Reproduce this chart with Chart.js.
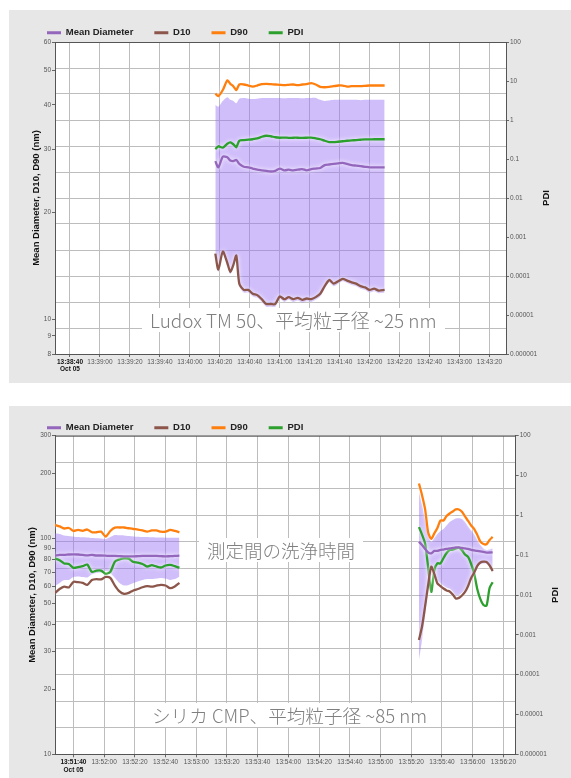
<!DOCTYPE html>
<html>
<head>
<meta charset="utf-8">
<script src="https://cdn.jsdelivr.net/npm/chart.js@4"></script>
<style>
  body { margin: 0; width: 571px; height: 778px; background: #fff; position: relative; overflow: hidden; }
  .panel { position: absolute; left: 9px; right: 0; background: #e7e7e7; }
  canvas { position: absolute; left: 0; }
  .note { position: absolute; background: #fff; color: #7f7f7f; font: 300 18px 'Noto Sans CJK JP', sans-serif;
          line-height: 22px; padding: 1px 8px; white-space: nowrap; }
</style>
</head>
<body>
<div class="panel" style="top:10px;height:373px"></div>
<div class="panel" style="top:406px;height:372px"></div>
<canvas id="c1" width="571" height="383" style="top:0"></canvas>
<canvas id="c2" width="571" height="383" style="top:395px"></canvas>
<div class="note" style="left:142px;top:308px;font-size:18.9px">Ludox TM 50、平均粒子径 ~25 nm</div>
<div class="note" style="left:199px;top:538px;font-size:18.5px">測定間の洗浄時間</div>
<div class="note" style="left:144px;top:703px;font-size:18.6px">シリカ CMP、平均粒子径 ~85 nm</div>
<script>
// --- chart 1 : Ludox TM 50 ---
const times1 = ['13:40:17','13:40:19','13:40:22','13:40:25','13:40:27','13:40:29','13:40:31','13:40:33','13:40:36','13:40:39',
  '13:40:42','13:40:45','13:40:48','13:40:51','13:40:54','13:40:57','13:41:00','13:41:03','13:41:06','13:41:09',
  '13:41:12','13:41:15','13:41:18','13:41:21','13:41:24','13:41:27','13:41:30','13:41:33','13:41:36','13:41:39',
  '13:41:42','13:41:45','13:41:48','13:41:51','13:41:54','13:41:57','13:42:00','13:42:03','13:42:06','13:42:10']
const mean1 = [27.8, 26.7, 28.6, 28.5, 27.9, 27.8, 28.0, 27.3, 26.8, 26.7,
  26.5, 26.3, 26.2, 26.1, 26.0, 26.1, 26.5, 26.2, 26.3, 26.2,
  26.3, 26.4, 26.2, 26.4, 26.5, 26.6, 27.1, 27.2, 27.3, 27.4,
  27.5, 27.3, 27.1, 27.0, 26.9, 26.8, 26.7, 26.7, 26.7, 26.7]
const d10_1 = [15.3, 13.8, 15.5, 14.4, 13.6, 14.2, 15.1, 12.6, 12.1, 12.1,
  11.8, 11.7, 11.4, 11.05, 11.05, 11.05, 11.6, 11.4, 11.55, 11.4,
  11.5, 11.35, 11.45, 11.4, 11.55, 11.8, 12.4, 12.9, 12.6, 12.8,
  13.0, 12.85, 12.7, 12.6, 12.4, 12.3, 12.1, 12.2, 12.05, 12.1]
const d90_1 = [43.0, 42.3, 44.0, 46.8, 45.8, 45.1, 44.0, 45.6, 45.6, 45.3,
  45.0, 45.3, 45.7, 45.8, 45.7, 45.6, 45.5, 45.4, 45.5, 45.6,
  45.4, 45.6, 45.7, 46.0, 45.6, 44.9, 44.8, 44.9, 45.1, 45.3,
  45.3, 45.0, 45.1, 45.1, 45.1, 45.2, 45.3, 45.3, 45.3, 45.3]
const pdi1 = [0.18, 0.212, 0.195, 0.246, 0.266, 0.239, 0.2, 0.294, 0.306, 0.312,
  0.321, 0.336, 0.372, 0.395, 0.383, 0.361, 0.351, 0.355, 0.348, 0.351,
  0.351, 0.348, 0.351, 0.355, 0.34, 0.321, 0.294, 0.272, 0.27, 0.277,
  0.285, 0.294, 0.299, 0.306, 0.312, 0.317, 0.317, 0.321, 0.321, 0.321]
const bandHi1 = [40.0, 39.5, 41.0, 42.0, 41.3, 41.0, 40.4, 41.6, 41.8, 41.6,
  41.5, 41.6, 41.8, 41.8, 41.8, 41.8, 41.8, 41.7, 41.8, 41.8,
  41.8, 41.7, 41.8, 41.8, 41.8, 41.3, 41.0, 41.1, 41.3, 41.3,
  41.3, 41.3, 41.3, 41.3, 41.2, 41.3, 41.3, 41.3, 41.3, 41.3]
const bandLo1 = [15.1, 13.6, 15.3, 14.2, 13.4, 14.0, 14.9, 12.4, 11.9, 11.9,
  11.6, 11.5, 11.2, 10.85, 10.85, 10.85, 11.4, 11.2, 11.35, 11.2,
  11.3, 11.15, 11.25, 11.2, 11.35, 11.6, 12.2, 12.7, 12.4, 12.6,
  12.8, 12.65, 12.5, 12.4, 12.2, 12.1, 11.9, 12.0, 11.85, 11.9]
const xRange1 = ['13:38:30', '13:43:31']
const xTicks1 = ['13:38:40','13:39:00','13:39:20','13:39:40','13:40:00','13:40:20','13:40:40','13:41:00',
  '13:41:20','13:41:40','13:42:00','13:42:20','13:42:40','13:43:00','13:43:20']
const sizeTicks1 = [8, 9, 10, 20, 30, 40, 50, 60]

// --- chart 2 : silica CMP (two runs, gap while cleaning) ---
const times2 = ['13:51:28','13:51:31','13:51:34','13:51:37','13:51:40','13:51:43','13:51:46','13:51:49','13:51:52','13:51:55',
  '13:51:58','13:52:01','13:52:04','13:52:07','13:52:10','13:52:13','13:52:16','13:52:19','13:52:22','13:52:25',
  '13:52:28','13:52:31','13:52:34','13:52:37','13:52:40','13:52:43','13:52:46','13:52:49',
  '13:54:00',
  '13:55:25','13:55:27','13:55:29','13:55:31','13:55:33','13:55:35','13:55:37','13:55:39','13:55:41','13:55:43',
  '13:55:45','13:55:47','13:55:49','13:55:51','13:55:53','13:55:55','13:55:57','13:55:59','13:56:01','13:56:03',
  '13:56:05','13:56:07','13:56:09','13:56:11','13:56:13']
const mean2 = [83.3, 84.0, 84.0, 84.4, 84.6, 84.4, 84.0, 83.6, 84.0, 83.5,
  83.5, 83.3, 83.1, 83.1, 82.9, 82.7, 82.7, 82.7, 82.9, 83.1,
  83.1, 83.1, 83.1, 82.9, 82.7, 82.9, 83.1, 83.3,
  null,
  96.8, 93.3, 89.6, 86.2, 85.5, 87.7, 87.7, 88.6, 89.0, 89.6,
  90.0, 90.5, 91.0, 91.0, 90.5, 90.0, 89.6, 88.6, 88.2, 87.7,
  87.2, 86.7, 86.2, 86.2, 86.4]
const d10_2 = [56.0, 58.4, 59.9, 59.4, 63.0, 62.8, 62.3, 61.0, 64.3, 64.9,
  64.7, 66.4, 65.7, 60.6, 56.9, 55.4, 56.0, 57.5, 58.4, 59.5,
  60.2, 59.9, 60.5, 61.0, 60.6, 58.9, 60.0, 62.3,
  null,
  33.9, 39.1, 48.5, 61.0, 74.1, 68.6, 62.0, 60.3, 58.7, 57.5,
  56.9, 55.1, 52.8, 53.1, 54.5, 56.6, 60.3, 65.7, 69.7, 74.7,
  77.5, 78.2, 77.9, 75.1, 70.8]
const d90_2 = [115.7, 113.9, 111.4, 112.0, 108.5, 109.7, 108.7, 110.2, 107.0, 107.0,
  107.7, 102.3, 108.5, 112.4, 112.6, 112.6, 111.7, 110.8, 110.2, 109.1,
  107.7, 109.1, 109.1, 107.7, 107.7, 109.7, 108.5, 107.0,
  null,
  180, 159, 137, 106.8, 99.7, 105.8, 112, 121.4, 121.4, 127.3,
  130.8, 133.6, 136.5, 136.5, 133.3, 126.7, 120.8, 115, 110.8, 104,
  96.8, 94.4, 94.2, 98.6, 101.8]
const pdi2 = [0.083, 0.075, 0.062, 0.060, 0.048, 0.050, 0.053, 0.058, 0.038, 0.041,
  0.041, 0.034, 0.038, 0.069, 0.078, 0.083, 0.082, 0.068, 0.065, 0.060,
  0.052, 0.056, 0.052, 0.049, 0.055, 0.057, 0.053, 0.048,
  null,
  0.508, 0.33, 0.195, 0.050, 0.012, 0.042, 0.063, 0.062, 0.085, 0.113,
  0.134, 0.138, 0.147, 0.155, 0.134, 0.104, 0.090, 0.060, 0.034, 0.014,
  0.0079, 0.0056, 0.0054, 0.015, 0.021]
const bandHi2 = [105.8, 105.0, 103.4, 102.7, 102.1, 101.7, 101.4, 101.2, 100.6, 100.4,
  100.2, 99.6, 101.7, 104.0, 103.6, 103.4, 102.7, 102.4, 102.1, 101.7,
  101.7, 101.4, 101.2, 101.2, 101.0, 101.0, 101.0, 101.0,
  null,
  164.5, 143, 122, 104, 96.5, 100.7, 105, 108.5, 110.8, 115,
  119.4, 122, 124, 124.4, 123.3, 119.4, 113.8, 109, 104.6, 98.6,
  93.4, 90, 88.6, 89, 90]
const bandLo2 = [60.3, 62.3, 64.3, 64.3, 66.4, 66.8, 66.4, 66.0, 68.3, 69.3,
  69.7, 70.8, 69.3, 65.7, 62.3, 60.6, 61.0, 62.3, 63.3, 64.3,
  64.9, 64.9, 65.3, 65.7, 65.3, 64.3, 64.9, 66.6,
  null,
  27.4, 33.9, 44.3, 57.8, 67.8, 65.7, 63.8, 62.0, 60.5, 59.2,
  58.6, 56.8, 54.4, 54.7, 56.1, 58.3, 62.0, 64.5, 68.5, 73.5,
  76.0, 76.5, 76.5, 73.5, 69.5]
const xRange2 = ['13:51:28', '13:56:28']
const xTicks2 = ['13:51:40','13:52:00','13:52:20','13:52:40','13:53:00','13:53:20','13:53:40','13:54:00',
  '13:54:20','13:54:40','13:55:00','13:55:20','13:55:40','13:56:00','13:56:20']
const sizeTicks2 = [10, 20, 30, 40, 50, 60, 70, 80, 90, 100, 200, 300]

const pdiTicks = [0.000001, 0.00001, 0.0001, 0.001, 0.01, 0.1, 1, 10, 100]

const FONT = "'Liberation Sans', Arial, sans-serif"
const COLORS = { mean: '#9467bd', d10: '#8c564b', d90: '#ff7f0e', pdi: '#2ca02c', band: 'rgba(150, 110, 245, 0.45)' }
const GRID = '#bdbdbd'

const sec = (t) => {
  const [h, m, s] = t.split(':').map(Number)
  return h * 3600 + m * 60 + s
}
const pts = (times, vals) => times.map((t, i) => ({ x: sec(t), y: vals[i] }))

const line = (label, times, vals, color, axis) => ({
  label, data: pts(times, vals), yAxisID: axis,
  borderColor: color, backgroundColor: color, borderWidth: 2.3,
  pointRadius: 0, tension: 0.25, fill: false
})

// white page behind the plot area + top border line + right axis title (reads upward)
const extras = {
  id: 'extras',
  beforeDraw (chart) {
    const { ctx, chartArea: a } = chart
    ctx.save()
    ctx.fillStyle = '#fff'
    ctx.fillRect(a.left, a.top, a.right - a.left, a.bottom - a.top)
    ctx.restore()
  },
  beforeDatasetDraw (chart, args) {
    if (args.index > 3) return
    chart.ctx.save()
    chart.ctx.shadowColor = 'rgba(255,255,255,0.95)'
    chart.ctx.shadowBlur = 4
  },
  afterDatasetDraw (chart, args) {
    if (args.index > 3) return
    chart.ctx.restore()
  },
  afterDraw (chart, args, opts) {
    const { ctx, chartArea: a } = chart
    ctx.save()
    ctx.strokeStyle = '#555'
    ctx.lineWidth = 1
    ctx.beginPath()
    ctx.moveTo(a.left, a.top + 0.5)
    ctx.lineTo(a.right, a.top + 0.5)
    ctx.stroke()
    ctx.translate(opts.titleX, (a.top + a.bottom) / 2)
    ctx.rotate(-Math.PI / 2)
    ctx.font = 'bold 9.5px ' + FONT
    ctx.fillStyle = '#111'
    ctx.textAlign = 'center'
    ctx.textBaseline = 'middle'
    ctx.fillText('PDI', 0, 0)
    ctx.restore()
  }
}

function makeChart (id, c) {
  return new Chart(document.getElementById(id), {
    type: 'line',
    data: {
      datasets: [
        line('Mean Diameter', c.times, c.mean, COLORS.mean, 'y'),
        line('D10', c.times, c.d10, COLORS.d10, 'y'),
        line('D90', c.times, c.d90, COLORS.d90, 'y'),
        line('PDI', c.times, c.pdi, COLORS.pdi, 'y1'),
        { label: 'band', data: pts(c.times, c.bandHi), yAxisID: 'y', fill: '+1',
          backgroundColor: COLORS.band, borderWidth: 0, pointRadius: 0, tension: 0.25 },
        { label: 'band low', data: pts(c.times, c.bandLo), yAxisID: 'y', fill: false,
          borderWidth: 0, pointRadius: 0, tension: 0.25 }
      ]
    },
    plugins: [extras],
    options: {
      responsive: false,
      animation: false,
      layout: { padding: { left: 26, right: 0, top: 7, bottom: 0 } },
      plugins: {
        tooltip: { enabled: false },
        extras: { titleX: c.rightTitleX },
        legend: {
          position: 'top',
          align: 'start',
          maxHeight: c.legendH,
          labels: {
            boxWidth: 14,
            boxHeight: 3,
            padding: 21,
            color: '#222',
            font: { family: FONT, size: 9.5, weight: 'bold' },
            generateLabels: (ch) => Chart.defaults.plugins.legend.labels.generateLabels(ch)
              .filter((l) => l.datasetIndex < 4)
              .map((l) => Object.assign(l, { lineWidth: 0 }))
          }
        }
      },
      scales: {
        x: {
          type: 'linear',
          min: sec(c.xRange[0]),
          max: sec(c.xRange[1]),
          afterBuildTicks: (s) => { s.ticks = c.xTicks.map((t) => ({ value: sec(t) })) },
          afterFit: (s) => { s.height = c.xHeight },
          grid: { color: GRID, tickLength: 3, tickColor: '#666' },
          border: { color: '#555' },
          ticks: {
            autoSkip: false,
            maxRotation: 0,
            padding: 1,
            callback: (v, i) => i === 0 ? [c.xTicks[0], 'Oct 05'] : c.xTicks[i],
            font: (ctx) => ({ family: FONT, size: 6.5, weight: ctx.index === 0 ? 'bold' : 'normal' }),
            color: (ctx) => ctx.index === 0 ? '#111' : '#555'
          }
        },
        y: {
          type: 'logarithmic',
          position: 'left',
          min: c.sizeTicks[0],
          max: c.sizeTicks[c.sizeTicks.length - 1],
          afterBuildTicks: (s) => { s.ticks = c.sizeTicks.map((v) => ({ value: v })) },
          afterFit: (s) => { s.width = 29 },
          grid: { drawOnChartArea: false, tickLength: 3, tickColor: '#666' },
          border: { color: '#555' },
          ticks: { padding: 1, color: '#555', font: { family: FONT, size: 6.5 }, callback: (v) => String(v) },
          title: {
            display: true,
            text: 'Mean Diameter, D10, D90 (nm)',
            color: '#111',
            font: { family: FONT, size: 9.5, weight: 'bold' },
            padding: { top: c.titlePad, bottom: 0 }
          }
        },
        y1: {
          type: 'logarithmic',
          position: 'right',
          min: pdiTicks[0],
          max: pdiTicks[pdiTicks.length - 1],
          afterBuildTicks: (s) => { s.ticks = pdiTicks.map((v) => ({ value: v })) },
          afterFit: (s) => { s.width = c.rightW },
          grid: { drawOnChartArea: false, tickLength: 3, tickColor: '#666' },
          border: { color: '#555' },
          ticks: { padding: 1, color: '#555', font: { family: FONT, size: 6.5 }, callback: (v) => String(v) }
        },
        g: {
          type: 'linear',
          position: 'left',
          min: 0,
          max: 12,
          afterFit: (s) => { s.width = 0 },
          ticks: { display: false, stepSize: 1 },
          grid: { color: GRID, drawTicks: false },
          border: { display: false }
        }
      }
    }
  })
}

makeChart('c1', {
  times: times1, mean: mean1, d10: d10_1, d90: d90_1, pdi: pdi1, bandHi: bandHi1, bandLo: bandLo1,
  xRange: xRange1, xTicks: xTicks1, sizeTicks: sizeTicks1,
  legendH: 35, xHeight: 29, rightW: 65, titlePad: 4.3, rightTitleX: 546
})
makeChart('c2', {
  times: times2, mean: mean2, d10: d10_2, d90: d90_2, pdi: pdi2, bandHi: bandHi2, bandLo: bandLo2,
  xRange: xRange2, xTicks: xTicks2, sizeTicks: sizeTicks2,
  legendH: 33.7, xHeight: 23.7, rightW: 55.3, titlePad: 0.6, rightTitleX: 555
})
</script>
</body>
</html>
